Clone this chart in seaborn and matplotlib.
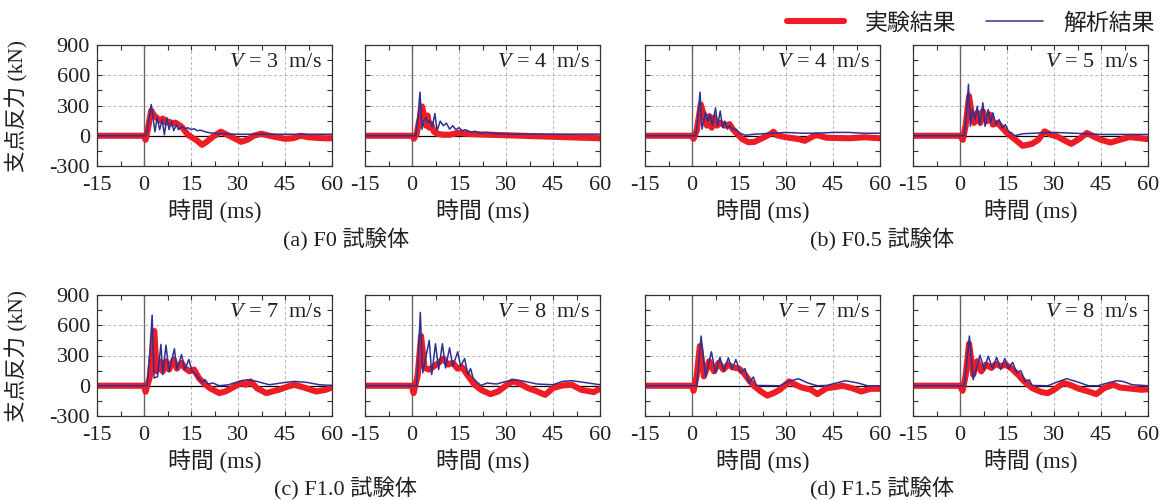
import numpy as np
import pandas as pd
import matplotlib
matplotlib.use("Agg")
import matplotlib.pyplot as plt
import seaborn as sns
from matplotlib.ticker import MultipleLocator
from matplotlib.lines import Line2D

sns.set_theme(style="ticks")
plt.rcParams['font.family'] = ['Liberation Serif', 'Noto Sans CJK JP']
plt.rcParams['mathtext.fontset'] = 'custom'
plt.rcParams['mathtext.it'] = 'Liberation Serif:italic'
plt.rcParams['mathtext.rm'] = 'Liberation Serif'
plt.rcParams['axes.unicode_minus'] = False

# ---------------- data ----------------
panel_speeds = ["3", "4", "4", "5", "7", "8", "7", "8"]
group_captions = ["(a) F0 試験体", "(b) F0.5 試験体", "(c) F1.0 試験体", "(d) F1.5 試験体"]
legend_labels = ["実験結果", "解析結果"]
x_ticks = [-15, 0, 15, 30, 45, 60]
y_ticks = [-300, 0, 300, 600, 900]

# (a) F0, V=3
ana_t_a1 = [-15, 0.5, 1.0, 1.5, 2.3, 3.0, 3.5, 4.2, 5.0, 5.8, 6.5, 7.3, 8.0, 8.8, 9.5, 10.3, 11, 12, 13, 14, 15, 16, 17, 18, 20, 22, 25, 30, 40, 50, 60]
ana_f_a1 = [0, 0, 50, 150, 310, 150, 40, 180, 60, 160, 10, 180, 60, 140, 50, 110, 60, 90, 70, 80, 60, 70, 50, 55, 35, 25, 20, 15, 15, 15, 15]
exp_t_a1 = [-15, 0, 0.5, 1.2, 2.3, 3.0, 4.0, 5.0, 6.0, 7.0, 8.0, 9.0, 10.0, 11.0, 12.0, 13.0, 14.0, 15.5, 17.0, 18.5, 20.0, 22.0, 24.5, 26.5, 28.5, 31.0, 33.0, 35.0, 37.5, 40.0, 42.5, 45.0, 47.5, 50.0, 52.5, 55.0, 57.5, 60.0]
exp_f_a1 = [0, 0, -40, 60, 250, 210, 180, 150, 170, 130, 140, 120, 130, 110, 90, 50, 10, -20, -50, -90, -60, -10, 40, 10, -20, -60, -40, 0, 20, 0, -15, -30, -25, 0, -15, -20, -25, -25]

# (a) F0, V=4
ana_t_a2 = [-15, 1.2, 1.8, 2.55, 3.2, 3.8, 4.5, 5.0, 5.6, 6.5, 7.3, 8.0, 9.0, 10.0, 11.0, 12.0, 13.0, 14.0, 15.0, 16.0, 17.0, 19.0, 20.0, 22.0, 24.0, 27.0, 30.0, 45.0, 60.0]
ana_f_a2 = [0, 0, 150, 433, 65, 150, 180, 130, 150, 90, 220, 50, 145, 100, 125, 65, 100, 60, 80, 50, 60, 33, 45, 25, 33, 20, 16, 16, 16]
exp_t_a2 = [-15, 0, 0.6, 1.5, 2.3, 3.2, 4.0, 4.5, 5.0, 5.5, 6.0, 7.0, 8.0, 10.0, 12.0, 15.0, 17.0, 20.0, 25.0, 30.0, 35.0, 40.0, 45.0, 50.0, 55.0, 60.0]
exp_f_a2 = [0, 0, -30, 20, 150, 290, 180, 100, 200, 80, 120, 40, 20, 10, 10, 30, 20, 15, 10, 5, 0, -5, -10, -15, -20, -25]

# (b) F0.5, V=4
ana_t_b1 = [-15, 1.2, 1.8, 2.55, 3.2, 4.3, 5.0, 5.8, 6.5, 7.5, 8.2, 9.0, 9.8, 10.5, 11.3, 12.0, 13.0, 14.0, 15.0, 16.0, 17.0, 20.0, 25.0, 30.0, 35.0, 40.0, 45.0, 50.0, 55.0, 60.0]
ana_f_b1 = [0, 0, 150, 433, 65, 230, 145, 210, 100, 275, 100, 245, 80, 145, 65, 100, 65, 65, 33, 16, 5, 16, 23, 33, 25, 25, 33, 33, 25, 25]
exp_t_b1 = [-15, 0, 0.5, 1.5, 2.8, 4.0, 4.8, 5.5, 6.3, 7.0, 8.0, 9.0, 10.5, 12.0, 13.0, 14.5, 16.0, 18.0, 20.0, 23.0, 25.0, 26.0, 27.0, 30.0, 34.0, 36.0, 39.0, 40.0, 43.0, 50.0, 55.0, 60.0]
exp_f_b1 = [0, 0, -30, 50, 310, 180, 100, 195, 80, 180, 100, 130, 100, 115, 65, 16, -33, -65, -60, -15, 16, 40, 5, -15, -33, -50, 0, 5, -20, -25, -15, -25]

# (b) F0.5, V=5
ana_t_b2 = [-15, 1.4, 2.0, 2.7, 3.3, 4.0, 4.8, 5.5, 6.3, 7.3, 8.0, 9.0, 9.8, 10.5, 11.5, 12.5, 13.5, 14.5, 15.5, 16.5, 17.5, 20.0, 25.0, 30.0, 35.0, 40.0, 45.0, 60.0]
ana_f_b2 = [0, 0, 200, 510, 93, 260, 160, 293, 110, 327, 93, 260, 127, 227, 110, 160, 77, 110, 43, 27, 0, 20, 27, 33, 27, 20, 13, 13]
exp_t_b2 = [-15, 0, 0.9, 1.8, 2.9, 3.8, 4.5, 5.5, 6.5, 7.3, 8.5, 9.5, 10.5, 12.0, 13.5, 15.0, 17.0, 19.0, 20.0, 23.0, 25.0, 27.0, 29.0, 31.0, 34.0, 35.5, 38.0, 40.5, 43.0, 45.0, 48.0, 51.0, 54.0, 57.0, 60.0]
exp_f_b2 = [0, 0, -40, 100, 393, 193, 127, 227, 127, 243, 143, 210, 110, 127, 77, 27, -23, -73, -100, -80, -40, 43, 10, -7, -57, -80, -33, 27, -13, -40, -67, -40, -13, -23, -33]

# (c) F1.0, V=7
ana_t_c1 = [-15, 1.0, 1.8, 2.6, 3.2, 4.3, 5.4, 6.0, 7.0, 8.0, 9.7, 10.5, 12.0, 13.0, 14.3, 15.3, 16.5, 17.3, 18.5, 19.5, 20.5, 22.0, 24.0, 27.0, 31.0, 33.0, 36.0, 40.0, 45.0, 48.0, 52.0, 56.0, 60.0]
ana_f_c1 = [0, 0, 300, 700, 77, 90, 410, 110, 403, 143, 367, 160, 310, 160, 260, 143, 110, 83, 33, 60, 17, 27, 0, 10, 50, 60, 43, 10, 33, 43, 33, 10, 3]
exp_t_c1 = [-15, 0, 0.5, 1.8, 3.3, 4.0, 5.0, 6.0, 7.0, 8.0, 9.5, 10.5, 12.0, 13.0, 14.5, 16.0, 17.5, 19.0, 21.0, 24.0, 26.0, 28.0, 31.0, 32.5, 34.0, 36.0, 39.0, 43.0, 46.0, 48.0, 51.0, 55.0, 58.0, 60.0]
exp_f_c1 = [0, 0, -60, 80, 543, 143, 243, 143, 243, 160, 260, 170, 227, 177, 143, 160, 77, 27, -23, -73, -57, -23, 27, 10, 43, -23, -73, -40, -7, 10, -17, -57, -40, -17]

# (c) F1.0, V=8
ana_t_c2 = [-15, 1.5, 2.0, 2.65, 3.4, 5.5, 6.3, 7.5, 8.5, 9.7, 10.7, 12.0, 13.0, 14.6, 15.5, 16.8, 17.8, 18.7, 19.5, 20.5, 22.0, 24.0, 27.0, 30.0, 33.0, 36.0, 40.0, 45.0, 48.0, 51.0, 55.0, 60.0]
ana_f_c2 = [0, 0, 300, 727, 127, 450, 110, 417, 160, 417, 177, 377, 193, 337, 193, 270, 110, 170, 77, 43, 3, 27, 17, 43, 60, 43, 17, 10, 43, 50, 33, 10]
exp_t_c2 = [-15, 0, 0.5, 1.8, 2.9, 4.0, 5.5, 7.0, 8.5, 10.0, 11.5, 13.0, 14.5, 16.0, 18.0, 20.0, 22.0, 25.0, 27.5, 30.0, 32.0, 34.0, 37.0, 40.0, 42.5, 45.0, 48.0, 51.0, 54.0, 58.0, 60.0]
exp_f_c2 = [0, 0, -73, 100, 493, 177, 160, 193, 227, 270, 210, 227, 170, 183, 93, 10, -40, -83, -57, 3, 43, 27, -23, -57, -90, -23, 3, 10, -40, -63, -30]

# (d) F1.5, V=7
ana_t_d1 = [-15, 1.5, 2.2, 2.9, 4.3, 6.2, 7.5, 8.9, 10.2, 11.6, 12.8, 14.0, 15.5, 16.9, 18.2, 19.6, 20.5, 28.0, 31.0, 34.0, 37.0, 40.0, 43.0, 46.0, 49.0, 53.0, 56.0, 60.0]
ana_f_d1 = [0, 0, 250, 493, 90, 337, 127, 283, 150, 277, 160, 260, 127, 170, 27, 87, 3, 0, 43, 70, 27, 0, 3, 27, 50, 27, 0, 0]
exp_t_d1 = [-15, 0, 0.5, 1.5, 2.5, 3.8, 5.5, 7.0, 8.5, 10.0, 11.5, 13.0, 15.0, 16.5, 18.5, 20.0, 22.0, 24.0, 26.0, 28.0, 31.0, 33.0, 35.0, 38.0, 40.0, 43.0, 45.0, 48.0, 51.0, 54.0, 57.0, 60.0]
exp_f_d1 = [0, 0, -50, 100, 393, 93, 243, 143, 227, 160, 210, 183, 170, 127, 43, -7, -57, -97, -73, -40, 43, 10, -17, -40, -83, -23, -17, 0, -23, -57, -30, -30]

# (d) F1.5, V=8
ana_t_d2 = [-15, 1.4, 2.2, 3.0, 4.2, 6.4, 7.7, 9.0, 10.4, 11.7, 13.0, 14.3, 15.5, 16.8, 18.1, 19.4, 20.8, 22.1, 23.0, 28.0, 31.0, 34.0, 37.0, 41.0, 44.0, 47.0, 50.0, 52.0, 55.0, 60.0]
ana_f_d2 = [0, 0, 250, 493, 60, 303, 160, 293, 170, 283, 160, 270, 170, 233, 127, 150, 43, 60, 3, 0, 37, 70, 43, 0, 0, 27, 50, 43, 10, 0]
exp_t_d2 = [-15, 0, 0.8, 1.8, 2.9, 4.2, 5.5, 6.8, 8.3, 10.0, 11.5, 13.0, 14.5, 16.5, 18.5, 20.5, 23.0, 26.0, 28.0, 30.0, 33.0, 35.0, 38.0, 41.0, 43.5, 46.0, 49.0, 51.0, 55.0, 58.0, 60.0]
exp_f_d2 = [0, 0, -50, 100, 417, 110, 243, 143, 210, 177, 217, 193, 210, 170, 110, 43, -23, -63, -73, -40, 27, 10, -30, -57, -83, -23, 10, -17, -30, -40, -35]

panels = [
    (exp_t_a1, exp_f_a1, ana_t_a1, ana_f_a1),
    (exp_t_a2, exp_f_a2, ana_t_a2, ana_f_a2),
    (exp_t_b1, exp_f_b1, ana_t_b1, ana_f_b1),
    (exp_t_b2, exp_f_b2, ana_t_b2, ana_f_b2),
    (exp_t_c1, exp_f_c1, ana_t_c1, ana_f_c1),
    (exp_t_c2, exp_f_c2, ana_t_c2, ana_f_c2),
    (exp_t_d1, exp_f_d1, ana_t_d1, ana_f_d1),
    (exp_t_d2, exp_f_d2, ana_t_d2, ana_f_d2),
]

RED = "#ee1c25"
BLUE = "#2e3192"
TXT = "#231f20"

W, H = 1163, 500
fig = plt.figure(figsize=(W / 100, H / 100), dpi=100)
fig.patch.set_facecolor("white")

lefts = [97, 365, 645, 913]
tops = [45, 295]
aw, ah = 235, 121

for i, (et, ef, at, af) in enumerate(panels):
    row, col = divmod(i, 4)
    l = lefts[col]
    t = tops[row]
    ax = fig.add_axes([l / W, 1 - (t + ah) / H, aw / W, ah / H])
    ax.set_facecolor("white")
    ax.axvline(0, color="#666666", lw=1.0, zorder=1)
    ax.axhline(0, color="black", lw=0.9, zorder=1)
    sns.lineplot(x=et, y=ef, ax=ax, color=RED, lw=4.4, estimator=None,
                 solid_capstyle="round", solid_joinstyle="round", zorder=2)
    sns.lineplot(x=at, y=af, ax=ax, color=BLUE, lw=1.1, estimator=None, zorder=3)
    ax.set_xlim(-15, 60)
    ax.set_ylim(-300, 900)
    ax.set_xticks(x_ticks)
    ax.set_yticks(y_ticks)
    ax.xaxis.set_minor_locator(MultipleLocator(7.5))
    ax.yaxis.set_minor_locator(MultipleLocator(150))
    ax.grid(True, which="major", ls=(0, (3, 2.5)), color="#b5b5b5", lw=0.7, zorder=0)
    ax.tick_params(which="both", direction="in", top=True, right=True,
                   colors="#333333", labelcolor=TXT, labelsize=16, width=0.8)
    ax.tick_params(which="major", length=3.5)
    ax.tick_params(which="minor", length=3.5)
    ax.tick_params(axis="x", which="major", pad=7)
    ax.tick_params(axis="y", which="major", pad=5)
    for s in ax.spines.values():
        s.set_color("#333333")
        s.set_linewidth(0.9)
    if col != 0:
        ax.set_yticklabels([])
    else:
        ax.set_ylabel("支点反力 (kN)", fontsize=15.5, color=TXT)
        ax.yaxis.set_label_coords(-0.29, 0.5)
    ax.set_xlabel("時間 (ms)", fontsize=16.5, color=TXT, labelpad=3)
    ax.text(0.955, 0.935, r"$V$ = " + panel_speeds[i] + "  m/s", transform=ax.transAxes,
            ha="right", va="top", fontsize=16, color=TXT)

# group captions
cap_pos = [(346, 240), (882, 240), (346, 489), (882, 489)]
for (cx, cy), cap in zip(cap_pos, group_captions):
    fig.text(cx / W, 1 - cy / H, cap, ha="center", va="center", fontsize=16, color=TXT)

handles = [Line2D([0], [0], color=RED, lw=4.4, solid_capstyle="round"),
           Line2D([0], [0], color=BLUE, lw=1.1)]
fig.legend(handles, legend_labels, loc="upper right", bbox_to_anchor=(1.011, 1.015), ncol=2,
           frameon=False, fontsize=16.5, handlelength=2.5, columnspacing=1.3, handletextpad=0.9,
           labelcolor=TXT)

fig.savefig("out.png", dpi=100, facecolor="white")
